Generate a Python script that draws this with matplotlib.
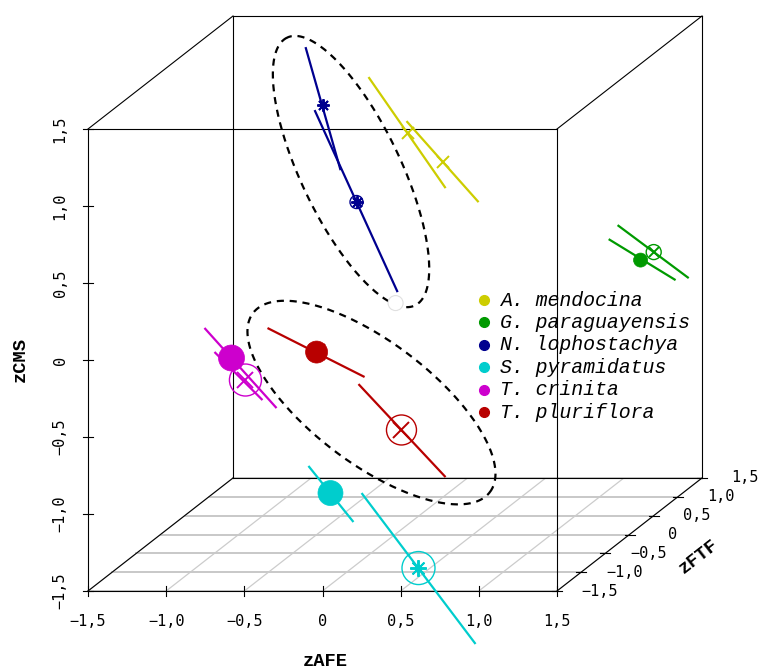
import numpy as np
import matplotlib.pyplot as plt
from matplotlib.patches import Circle

# axis values shared by zAFE, zFTF and zCMS
ticks = [-1.5, -1.0, -0.5, 0.0, 0.5, 1.0, 1.5]
tick_text = ['\u22121,5', '\u22121,0', '\u22120,5', '0', '0,5', '1,0', '1,5']

species = ['A. mendocina', 'G. paraguayensis', 'N. lophostachya',
           'S. pyramidatus', 'T. crinita', 'T. pluriflora']
colours = ['#cdcd00', '#009a00', '#00008f', '#00cdcd', '#cd00cd', '#b80000']

# zFTF of each species
zftf = [0.5, 1.5, 1.5, -1.5, -1.5, -0.5]

# (zAFE, zCMS) of the first segment and its point
seg1_start = [(-0.324, 1.348), (0.903, 0.051), (-1.036, 1.298),
              (-0.090, -0.688), (-0.755, 0.208), (-0.661, -0.037)]
seg1_end = [(0.169, 0.627), (1.331, -0.215), (-0.812, 0.499),
            (0.198, -1.052), (-0.294, -0.312), (-0.040, -0.355)]
pt1 = [(-0.074, 0.984), (1.107, -0.085), (-0.927, 0.921),
       (0.051, -0.864), (-0.582, 0.013), (-0.347, -0.193)]

# (zAFE, zCMS) of the second segment and its point
seg2_start = [(-0.081, 1.062), (0.960, 0.142), (-0.978, 0.889),
              (0.250, -0.864), (-0.691, 0.052), (-0.079, -0.401)]
seg2_end = [(0.380, 0.536), (1.415, -0.202), (-0.447, -0.293),
            (0.979, -1.844), (-0.384, -0.260), (0.478, -1.005)]
pt2 = [(0.150, 0.796), (1.191, -0.033), (-0.710, 0.292),
       (0.614, -1.351), (-0.493, -0.130), (0.196, -0.699)]

# blank point of N. lophostachya (zAFE, zFTF, zCMS)
blank_pt = (-0.460, 1.5, -0.364)

# group ellipses: centre (zAFE, zCMS), zFTF, semi-axes, angle in degrees
ell_centre = [(-0.745, 0.490), (0.004, -0.521)]
ell_depth = [1.5, -0.5]
ell_axes = [(0.961, 0.320), (0.955, 0.393)]
ell_angle = [115.1, -37.65]

# marker styles (radius in pixels, glyph size in points)
fill_r = [0, 7, 0, 12.5, 13, 11]
ring_r = [0, 7.5, 6.5, 16.5, 16, 15]
glyph1 = ['x', None, (8, 2, 0), None, 'x', 'x']
glyph2 = ['x', 'x', (8, 2, 0), (8, 2, 0), 'x', 'x']
glyph_size = [9, 7, 9, 12, 11, 12]

# oblique projection onto the page (pixels)
X0, Y0 = 88.0, 591.0
SX, SZ = 469.0 / 3, 462.0 / 3
DX, DY = 145.0 / 3, 113.0 / 3


def proj(x, y, z):
    x, y, z = np.asarray(x, float), np.asarray(y, float), np.asarray(z, float)
    return X0 + SX * (x + 1.5) + DX * (y + 1.5), Y0 - SZ * (z + 1.5) - DY * (y + 1.5)


fig = plt.figure(figsize=(7.6, 6.71), dpi=100)
ax = fig.add_axes([0, 0, 1, 1])
ax.set_xlim(0, 760)
ax.set_ylim(671, 0)
ax.axis('off')

# floor grid
for t in ticks:
    px, py = proj([t, t], [-1.5, 1.5], [-1.5, -1.5])
    ax.plot(px, py, color='#cccccc', lw=0.9, zorder=1)
    px, py = proj([-1.5, 1.5], [t, t], [-1.5, -1.5])
    ax.plot(px, py, color='#c8c8c8', lw=1.4, zorder=1)

# box
lo, hi = -1.5, 1.5
edges = []
for a in (lo, hi):
    for b in (lo, hi):
        edges.append(((lo, a, b), (hi, a, b)))
        edges.append(((a, lo, b), (a, hi, b)))
        edges.append(((a, b, lo), (a, b, hi)))
for p, q in edges:
    px, py = proj([p[0], q[0]], [p[1], q[1]], [p[2], q[2]])
    ax.plot(px, py, color='black', lw=0.8, zorder=2)

# ticks and tick labels
mono = 'DejaVu Sans Mono'
for t, s in zip(ticks, tick_text):
    px, py = proj(t, -1.5, -1.5)
    ax.plot([px, px], [py - 5, py + 5], color='black', lw=0.8, zorder=2)
    ax.text(px, 622, s, ha='center', va='center', family=mono, fontsize=11)
    px, py = proj(-1.5, -1.5, t)
    ax.plot([px - 5, px + 5], [py, py], color='black', lw=0.8, zorder=2)
    ax.text(60, py, s, ha='center', va='center', rotation=90,
            family=mono, fontsize=11)
    px, py = proj(1.5, t, -1.5)
    ax.plot([px - 5, px + 5], [py, py], color='black', lw=0.8, zorder=2)
    ax.text(px + 43, py, s, ha='center', va='center', family=mono, fontsize=11)

lab = dict(family='Liberation Mono', fontweight='bold', fontsize=13.5,
           ha='center', va='center')
ax.text(325, 662, 'zAFE', **lab)
ax.text(20, 360, 'zCMS', rotation=90, **lab)
ax.text(699, 557, 'zFTF', rotation=38, **lab)

# dashed ellipses
t = np.linspace(0, 2 * np.pi, 300)
for (cx, cz), y, (a, b), ang in zip(ell_centre, ell_depth, ell_axes, ell_angle):
    th = np.radians(ang)
    ex = cx + a * np.cos(t) * np.cos(th) - b * np.sin(t) * np.sin(th)
    ez = cz + a * np.cos(t) * np.sin(th) + b * np.sin(t) * np.cos(th)
    px, py = proj(ex, np.full_like(ex, y), ez)
    ax.plot(px, py, color='black', lw=1.6, linestyle=(0, (3.2, 2.6)), zorder=3)

# blank point
bx, by = proj(*blank_pt)
ax.add_patch(Circle((float(bx), float(by)), 7.5, facecolor='white',
                    edgecolor='#e0e0e0', lw=0.8, zorder=4))

# segments and points of each species
for i, c in enumerate(colours):
    y = zftf[i]
    for s0, s1 in ((seg1_start[i], seg1_end[i]), (seg2_start[i], seg2_end[i])):
        px, py = proj([s0[0], s1[0]], [y, y], [s0[1], s1[1]])
        ax.plot(px, py, color=c, lw=1.6, solid_capstyle='butt', zorder=5)

    px, py = proj(pt1[i][0], y, pt1[i][1])
    if glyph1[i] is not None:
        ax.plot(px, py, marker=glyph1[i], ms=glyph_size[i], mew=1.4,
                color=c, zorder=6)
    if fill_r[i] > 0:
        ax.add_patch(Circle((float(px), float(py)), fill_r[i], facecolor=c,
                            edgecolor=c, lw=0.5, zorder=7))

    px, py = proj(pt2[i][0], y, pt2[i][1])
    ax.plot(px, py, marker=glyph2[i], ms=glyph_size[i], mew=1.4,
            color=c, zorder=6)
    if ring_r[i] > 0:
        ax.add_patch(Circle((float(px), float(py)), ring_r[i], facecolor='none',
                            edgecolor=c, lw=1.0, zorder=7))

# legend
for k, (name, c) in enumerate(zip(species, colours)):
    ly = 300 + 22.4 * k
    ax.plot(484, ly, 'o', ms=7, color=c, zorder=8)
    ax.text(500, ly, name, ha='left', va='center', family='Liberation Mono',
            style='italic', fontsize=14.3, zorder=8)

fig.savefig('out.png', dpi=100)
